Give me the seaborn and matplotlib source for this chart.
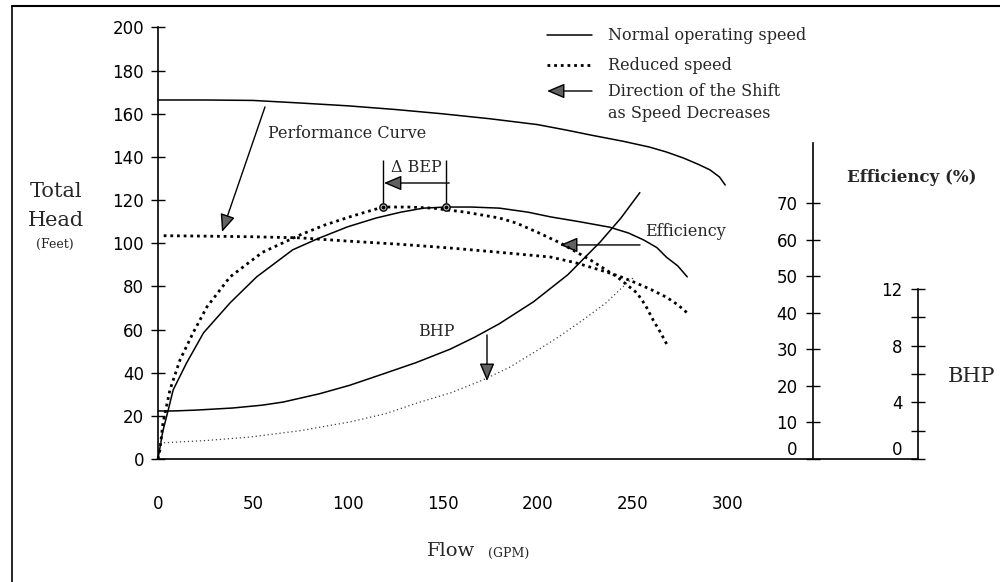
import matplotlib
matplotlib.use("Agg")
import matplotlib.pyplot as plt
from matplotlib.lines import Line2D
import numpy as np
import pandas as pd
import seaborn as sns

# ---------------- data ----------------
flow_ticks = [0, 50, 100, 150, 200, 250, 300]
head_ticks = [0, 20, 40, 60, 80, 100, 120, 140, 160, 180, 200]
eff_ticks = [0, 10, 20, 30, 40, 50, 60, 70]
bhp_ticks = [0, 2, 4, 6, 8, 10, 12]
bhp_tick_labels = ["0", "", "4", "", "8", "", "12"]

# Performance (head) curves
flow_perf_normal = [0, 25, 50, 75, 100, 125, 150, 175, 200, 215, 229, 245, 259, 268, 277, 285, 291, 296, 299]
head_perf_normal = [166.4, 166.4, 166.2, 165.0, 163.7, 162.0, 160.0, 157.7, 155.0, 152.5, 150.0,
                    147.3, 144.6, 142.3, 139.5, 136.5, 134.0, 130.7, 127.0]
flow_perf_reduced = [3, 25, 50, 75, 100, 128, 154, 180, 207, 220, 233, 243, 252, 260, 268, 274, 279]
head_perf_reduced = [103.5, 103.3, 103.0, 102.5, 101.0, 99.5, 97.8, 95.8, 93.6, 91.0, 87.6, 84.8,
                     81.6, 78.5, 75.0, 71.5, 67.7]

# Efficiency curves (%)
flow_eff_normal = [0, 1, 2.5, 5.4, 8, 15, 24, 38, 52, 71, 84, 100, 115, 128, 140, 152, 165, 180,
                   195, 207, 222, 238, 248, 256, 263, 268, 274, 279]
eff_normal = [0, 3, 7.5, 13.4, 18.9, 26.2, 34.5, 42.7, 49.8, 57.2, 60.2, 63.5, 65.9, 67.5, 68.6,
              68.9, 68.9, 68.6, 67.5, 66.2, 64.9, 63.4, 61.8, 59.9, 57.8, 55.2, 52.8, 49.8]
flow_eff_reduced = [0, 1, 2.6, 6.3, 11.6, 18.5, 25.8, 38, 55, 75, 88, 101, 110, 118.6, 132, 145,
                    162, 180, 189, 200, 212, 228, 242, 252.5, 257, 261, 265, 269]
eff_reduced = [0, 2.5, 9.8, 18.9, 27.1, 34.5, 41.6, 49.8, 56.5, 61.3, 64.0, 66.2, 67.6, 68.9, 68.9,
               68.6, 67.5, 65.9, 64.5, 62.0, 59.1, 54.4, 49.8, 45.4, 42.0, 38.0, 34.5, 30.6]

# BHP curves
flow_bhp_normal = [0, 8, 20, 39.5, 55, 66, 85, 101, 118.6, 136, 154, 167, 180, 198, 216, 233, 244, 254]
bhp_normal = [3.39, 3.39, 3.45, 3.6, 3.8, 4.02, 4.6, 5.2, 6.0, 6.8, 7.75, 8.6, 9.55, 11.1, 13.0,
              15.3, 17.0, 18.8]
flow_bhp_reduced = [1, 25, 48.5, 75, 101, 120, 136.5, 155, 171.3, 185, 197.7, 211, 224, 236, 247.2, 250.4]
bhp_reduced = [1.13, 1.3, 1.55, 2.0, 2.61, 3.2, 3.95, 4.7, 5.58, 6.45, 7.48, 8.6, 9.81, 11.0, 12.42, 12.77]

# ---------------- style ----------------
sns.set_theme(style="white")
plt.rcParams["font.family"] = ["DejaVu Sans"]
plt.rcParams["axes.edgecolor"] = "black"
plt.rcParams["axes.linewidth"] = 1.2
plt.rcParams["xtick.color"] = "black"
plt.rcParams["ytick.color"] = "black"

SERIF = ["DejaVu Serif"]
DOT_HEAVY = (0, (1, 1.4))
DOT_FINE = (0, (1, 2.2))

W, H = 1000, 582
fig = plt.figure(figsize=(W / 100, H / 100), dpi=100)
fig.patch.set_facecolor("white")


def fx(px):
    return px / W


def fy(py):
    return 1 - py / H


# axes frame: x 0 at px158, axis end px918 ; y 0 at py459, top py27.5
ax = fig.add_axes([fx(158), fy(459), fx(918) - fx(158), (459 - 27.5) / H])
ax.set_facecolor("none")
ax_eff = ax.twinx()
ax_bhp = ax.twinx()

XMAX = (918 - 158) / 1.897
ax.set_xlim(0, XMAX)
ax.set_ylim(0, 200)
ax_eff.set_ylim(0, (459 - 27.5) / 3.657)
ax_bhp.set_ylim(0, (459 - 27.5) / 14.17)

# main axis spines
for s in ["top", "right"]:
    ax.spines[s].set_visible(False)
ax.spines["left"].set_bounds(0, 200)
ax.set_xticks(flow_ticks)
ax.set_yticks(head_ticks)
ax.tick_params(axis="x", direction="inout", length=16, width=1, pad=18, labelsize=12)
ax.tick_params(axis="y", direction="inout", length=10, width=1, pad=5, labelsize=12)

# efficiency axis
EFF_X = (813 - 158) / 1.897
for s in ["top", "right", "bottom"]:
    ax_eff.spines[s].set_visible(False)
ax_eff.spines["left"].set_position(("data", EFF_X))
ax_eff.spines["left"].set_bounds(0, (459 - 143) / 3.657)
ax_eff.yaxis.set_ticks_position("left")
ax_eff.set_yticks(eff_ticks)
ax_eff.tick_params(axis="y", direction="inout", length=10, width=1, pad=6, labelsize=12,
                   left=True, right=False, labelleft=True, labelright=False)
ax_eff.patch.set_visible(False)

# BHP axis
for s in ["top", "right", "bottom"]:
    ax_bhp.spines[s].set_visible(False)
ax_bhp.spines["left"].set_position(("data", XMAX))
ax_bhp.spines["left"].set_bounds(0, 12)
ax_bhp.yaxis.set_ticks_position("left")
ax_bhp.set_yticks(bhp_ticks)
ax_bhp.set_yticklabels(bhp_tick_labels)
ax_bhp.tick_params(axis="y", direction="inout", length=10, width=1, pad=6, labelsize=12,
                   left=True, right=False, labelleft=True, labelright=False)
ax_bhp.patch.set_visible(False)

for a in (ax_eff, ax_bhp):
    lab = a.get_yticklabels()[0]
    lab.set_verticalalignment("bottom")

# ---------------- curves ----------------
common = dict(color="black", estimator=None, sort=False, legend=False)
sns.lineplot(x=flow_perf_normal, y=head_perf_normal, ax=ax, linewidth=1.1, **common)
sns.lineplot(x=flow_perf_reduced, y=head_perf_reduced, ax=ax, linewidth=2.0,
             linestyle=DOT_HEAVY, **common)
sns.lineplot(x=flow_eff_normal, y=eff_normal, ax=ax_eff, linewidth=1.1, **common)
sns.lineplot(x=flow_eff_reduced, y=eff_reduced, ax=ax_eff, linewidth=2.0,
             linestyle=DOT_HEAVY, **common)
sns.lineplot(x=flow_bhp_normal, y=bhp_normal, ax=ax_bhp, linewidth=1.1, **common)
sns.lineplot(x=flow_bhp_reduced, y=bhp_reduced, ax=ax_bhp, linewidth=0.9,
             linestyle=DOT_FINE, **{**common, "color": "0.25"})
for a in (ax, ax_eff, ax_bhp):
    for ln in a.get_lines():
        ln.set_clip_on(False)
        ln.set_solid_joinstyle("round")

# best efficiency points
i_n = int(np.argmax(eff_normal))
i_r = int(np.argmax(eff_reduced))
bep_flow = [flow_eff_reduced[i_r], flow_eff_normal[i_n]]
bep_eff = [eff_reduced[i_r], eff_normal[i_n]]
ax_eff.scatter(bep_flow, bep_eff, s=28, facecolor="0.75", edgecolor="black",
               linewidth=1.0, zorder=5, clip_on=False)
ax_eff.scatter(bep_flow, bep_eff, s=3, color="black", zorder=6, clip_on=False)

# ΔBEP bracket
top_eff = (459 - 160) / 3.657
arr_eff = (459 - 183) / 3.657
ax_eff.vlines(bep_flow, [e + 1.2 for e in bep_eff], top_eff, color="black", linewidth=1.0)
arrow_kw = dict(arrowstyle="-|>,head_length=0.9,head_width=0.38", mutation_scale=12,
                fc="0.38", ec="black", lw=1.0, shrinkA=0, shrinkB=0)
ax_eff.annotate("", xy=(bep_flow[0] + 0.5, arr_eff), xytext=(bep_flow[1] + 1.5, arr_eff),
                arrowprops=arrow_kw)
fig.text(fx(416), fy(168), "Δ BEP", family=SERIF, fontsize=11.5, ha="center", va="center")

# ---------------- annotations ----------------
def head_of(py):
    return (459 - py) / 2.157


def flow_of(px):
    return (px - 158) / 1.897


# Performance curve arrow
ax.annotate("", xy=(flow_of(222), head_of(232)), xytext=(flow_of(265), head_of(107)),
            arrowprops=arrow_kw, annotation_clip=False)
fig.text(fx(268), fy(133), "Performance Curve", family=SERIF, fontsize=11.5,
         ha="left", va="center")

# Efficiency arrow
ax.annotate("", xy=(flow_of(560), head_of(245)), xytext=(flow_of(640), head_of(245)),
            arrowprops=arrow_kw, annotation_clip=False)
fig.text(fx(645), fy(232), "Efficiency", family=SERIF, fontsize=11.5, ha="left", va="center")

# BHP arrow
ax.annotate("", xy=(flow_of(487), head_of(381)), xytext=(flow_of(487), head_of(335)),
            arrowprops=arrow_kw, annotation_clip=False)
fig.text(fx(418), fy(331), "BHP", family=SERIF, fontsize=11.5, ha="left", va="center")

# ---------------- key ----------------
fig.add_artist(Line2D([fx(547), fx(592)], [fy(35), fy(35)], color="black", lw=1.1))
fig.add_artist(Line2D([fx(547), fx(592)], [fy(65), fy(65)], color="black", lw=2.0,
                      linestyle=DOT_HEAVY))
fig.add_artist(matplotlib.patches.FancyArrowPatch((fx(592), fy(91)), (fx(547), fy(91)),
                                                  transform=fig.transFigure, **arrow_kw))
key_kw = dict(family=SERIF, fontsize=11.5, ha="left", va="center")
fig.text(fx(608), fy(35), "Normal operating speed", **key_kw)
fig.text(fx(608), fy(65), "Reduced speed", **key_kw)
fig.text(fx(608), fy(91), "Direction of the Shift", **key_kw)
fig.text(fx(608), fy(113), "as Speed Decreases", **key_kw)

# ---------------- axis titles ----------------
fig.text(fx(56), fy(192), "Total", family=SERIF, fontsize=15, ha="center", va="center")
fig.text(fx(56), fy(221), "Head", family=SERIF, fontsize=15, ha="center", va="center")
fig.text(fx(55), fy(244), "(Feet)", family=SERIF, fontsize=9, ha="center", va="center")
fig.text(fx(912), fy(178), "Efficiency (%)", family=SERIF, fontsize=12, fontweight="bold",
         ha="center", va="center")
fig.text(fx(948), fy(377), "BHP", family=SERIF, fontsize=15, ha="left", va="center")
fig.text(fx(427), fy(551), "Flow", family=SERIF, fontsize=14, ha="left", va="center")
fig.text(fx(488), fy(553), "(GPM)", family=SERIF, fontsize=9, ha="left", va="center")

# ---------------- outer frame ----------------
fig.add_artist(Line2D([fx(12), 1.0], [fy(6), fy(6)], color="black", lw=1.5))
fig.add_artist(Line2D([fx(12), fx(12)], [fy(6), 0.0], color="black", lw=1.2))

fig.savefig("out.png", dpi=100, facecolor="white")
